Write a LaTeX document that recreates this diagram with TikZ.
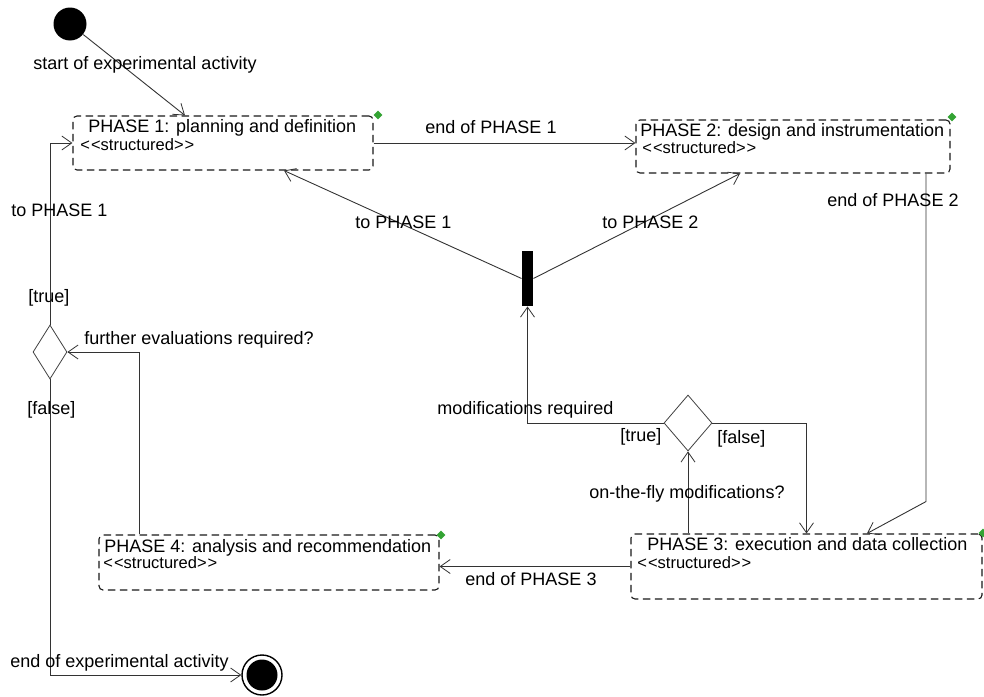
\documentclass[tikz,border=0pt]{standalone}
\usepackage{fontspec}
\setmainfont{Liberation Sans}
\usetikzlibrary{arrows.meta,shapes.geometric}
\begin{document}
\begin{tikzpicture}[x=1pt,y=-1pt,
  line width=0.9pt,
  ink/.style={black!80},
  arr/.style={ink,-{Straight Barb[length=10pt,width=14pt,line width=0.8pt]}},
  phase/.style={draw=black!90,line width=1.1pt,dash pattern=on 7.5pt off 4.5pt,rounded corners=4pt,
    minimum width=#1,inner sep=0pt},
  lbl/.style={anchor=west,inner sep=0pt,text height=0.72em,text depth=0pt,yshift=-2.5pt,
    font=\fontsize{18}{20}\selectfont},
  stereo/.style={anchor=west,inner sep=0pt,text height=0.72em,text depth=0pt,yshift=-2pt,
    font=\fontsize{16.5}{18}\selectfont},
  decision/.style={draw=black!75,diamond,inner sep=0pt,line width=0.8pt},
  icon/.style={diamond,fill=green!55!black!80,inner sep=0pt,minimum size=9pt},
]
\useasboundingbox (0,0) rectangle (984,696);

% initial and final states
\node[circle,fill=black,minimum size=33pt,inner sep=0pt] (start) at (70,24) {};
\node[circle,draw=black,line width=1.4pt,fill=white,minimum size=40pt,inner sep=0pt,
  path picture={\fill[black] (path picture bounding box.center) circle (15.5pt);}]
  (fin) at (262,675) {};

% structured activities
\node[phase=300pt,minimum height=54pt] (p1) at (223,143) {};
\node[phase=314pt,minimum height=53pt] (p2) at (793,146.5) {};
\node[phase=351pt,minimum height=65pt] (p3) at (806.5,566.5) {};
\node[phase=340pt,minimum height=55pt] (p4) at (269,562.5) {};

\node[lbl] (p1t) at (88,126) {PHASE 1: planning and definition};
\node[stereo] (p1s) at (80,145) {<\kern1pt<structured>\kern1pt>};
\node[lbl] (p2t) at (640,130) {PHASE 2: design and instrumentation};
\node[stereo] (p2s) at (642,148) {<\kern1pt<structured>\kern1pt>};
\node[lbl] (p3t) at (647,544) {PHASE 3: execution and data collection};
\node[stereo] (p3s) at (637,563) {<\kern1pt<structured>\kern1pt>};
\node[lbl] (p4t) at (104,546) {PHASE 4: analysis and recommendation};
\node[stereo] (p4s) at (103,563) {<\kern1pt<structured>\kern1pt>};

% small markers at the box corners
\node[icon] (p1i) at (378,115) {};
\node[icon] (p2i) at (952,117) {};
\node[icon] (p3i) at (983,533) {};
\node[icon] (p4i) at (441,535) {};

% fork bar and decisions
\node[fill=black,minimum width=11pt,minimum height=55pt,inner sep=0pt] (bar) at (527.5,278.5) {};
\node[decision,minimum width=34pt,minimum height=54pt] (d1) at (50,352) {};
\node[decision,minimum width=48pt,minimum height=56pt] (d2) at (688,423) {};

% transitions
\draw[arr] (start) -- ([xshift=-38pt]p1.north);
\draw[arr] (p1.east) -- (p1.east -| p2.west);
\draw[arr] (bar.west) -- ([xshift=61pt]p1.south);
\draw[arr] (bar.east) -- ([xshift=-53pt]p2.south);
\draw[arr] (d1.north) |- (p1.west);
\draw[arr] ([xshift=-130pt]p4.north) |- (d1.east);
\draw[arr] (d1.south) |- (fin.west);
\draw[arr] (d2.west) -| (bar.south);
\draw[arr] (d2.east) -| (p3.north);
\draw[arr] (d2.south |- p3.north) -- (d2.south);
\draw[arr] ([xshift=133pt]p2.south) -- ++(0,328) -- ([xshift=60.5pt]p3.north);
\draw[arr] (p3.west) -- (p3.west -| p4.east);

% transition labels
\node[lbl] (l1) at (33,63) {start of experimental activity};
\node[lbl] (l2) at (425,127) {end of PHASE 1};
\node[lbl] (l3) at (11,210) {to PHASE 1};
\node[lbl] (l4) at (355,222) {to PHASE 1};
\node[lbl] (l5) at (602,222) {to PHASE 2};
\node[lbl] (l6) at (827,200) {end of PHASE 2};
\node[lbl] (l7) at (28,296) {[true]};
\node[lbl] (l8) at (84,338) {further evaluations required?};
\node[lbl] (l9) at (27,408) {[false]};
\node[lbl] (l10) at (437,408) {modifications required};
\node[lbl] (l11) at (620,435) {[true]};
\node[lbl] (l12) at (717,437) {[false]};
\node[lbl] (l13) at (589,492) {on-the-fly modifications?};
\node[lbl] (l14) at (465,579) {end of PHASE 3};
\node[lbl] (l15) at (10,661) {end of experimental activity};
\end{tikzpicture}
\end{document}
